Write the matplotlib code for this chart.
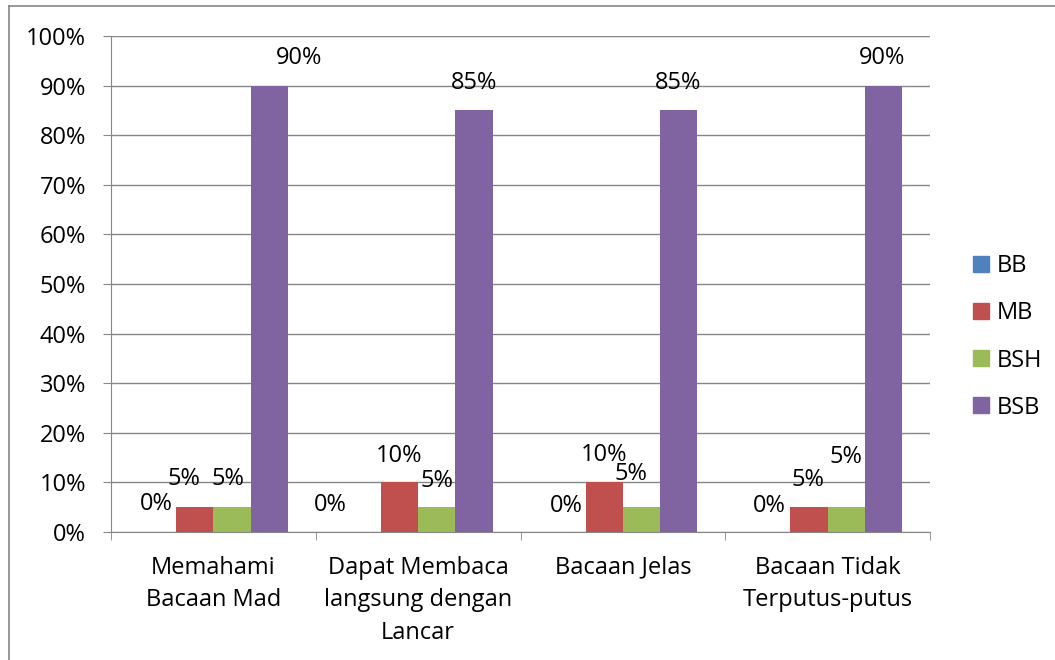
import numpy as np
import matplotlib.pyplot as plt
from matplotlib.patches import Patch
from matplotlib.lines import Line2D

#__________________________________________________________________
# Datos

categorias = ['Memahami\nBacaan Mad', 'Dapat Membaca\nlangsung dengan\nLancar',
              'Bacaan Jelas', 'Bacaan Tidak\nTerputus-putus']
series = ['BB', 'MB', 'BSH', 'BSB']
bb = [0, 0, 0, 0]
mb = [5, 10, 10, 5]
bsh = [5, 5, 5, 5]
bsb = [90, 85, 85, 90]

colores = ['#4F81BD', '#C0504D', '#9BBB59', '#8064A2']
gris = '#868686'

# desplazamiento de cada etiqueta (px) respecto a la punta de su barra
desp_etiquetas = [
    [(-1, 28), (-32, 27), (-1, 26), (-2, 26)],
    [(-11, 28), (0, 26), (0, 27), (-1, 27)],
    [(-4, 28), (0, 26), (-11, 33), (0, 50)],
    [(30, 28), (0, 27), (-1, 27), (-1, 28)],
]

#__________________________________________________________________
# Grafica

def main():
    plt.rcParams['font.family'] = ['Open Sans', 'DejaVu Sans']
    fs = 17

    fig = plt.figure(figsize=(10.55, 6.6), dpi=100)
    ax = fig.add_axes([111 / 1055, 128 / 660, 819 / 1055, 496 / 660])

    valores = [bb, mb, bsh, bsb]
    x = np.arange(len(categorias))
    ancho = 1 / 5.5

    for i, (nombre, vals) in enumerate(zip(series, valores)):
        pos = x + (i - 1.5) * ancho
        ax.bar(pos, vals, ancho, color=colores[i], label=nombre, zorder=3)
        for j, v in enumerate(vals):
            dx, dy = desp_etiquetas[i][j]
            ax.annotate(f'{v}%', (pos[j], v), xytext=(dx, dy),
                        textcoords='offset pixels', ha='center', va='center',
                        fontsize=fs, zorder=4)

    ax.set_xlim(-0.5, len(categorias) - 0.5)
    ax.set_ylim(0, 100)
    ax.set_yticks(np.arange(0, 101, 10))
    ax.set_yticklabels([f'{t}%' for t in range(0, 101, 10)], fontsize=fs)
    ax.set_xticks(x)
    ax.set_xticklabels(categorias, fontsize=fs, linespacing=1.48)
    ax.set_xticks(np.arange(-0.5, len(categorias)), minor=True)

    ax.tick_params(axis='y', length=6, color=gris, pad=12)
    ax.tick_params(axis='x', which='major', length=0, pad=17)
    ax.tick_params(axis='x', which='minor', length=6, color=gris)
    ax.grid(axis='y', color=gris, linewidth=1, zorder=0)

    for lado in ['top', 'right']:
        ax.spines[lado].set_visible(False)
    for lado in ['left', 'bottom']:
        ax.spines[lado].set_color(gris)

    # leyenda a la derecha
    manijas = [Patch(color=c, label=s) for c, s in zip(colores, series)]
    fig.legend(handles=manijas, loc='upper left', bbox_to_anchor=(952 / 1055, 1 - 233 / 660),
               frameon=False, fontsize=fs, handlelength=0.65, handleheight=0.65,
               handletextpad=0.35, labelspacing=0.98)

    # marco del area de grafico
    fig.add_artist(Line2D([9 / 1055, 9 / 1055], [0, 1 - 6 / 660], color=gris, lw=1.2))
    fig.add_artist(Line2D([9 / 1055, 1], [1 - 6 / 660, 1 - 6 / 660], color=gris, lw=1.2))

    fig.savefig('out.png', dpi=100)

main()
